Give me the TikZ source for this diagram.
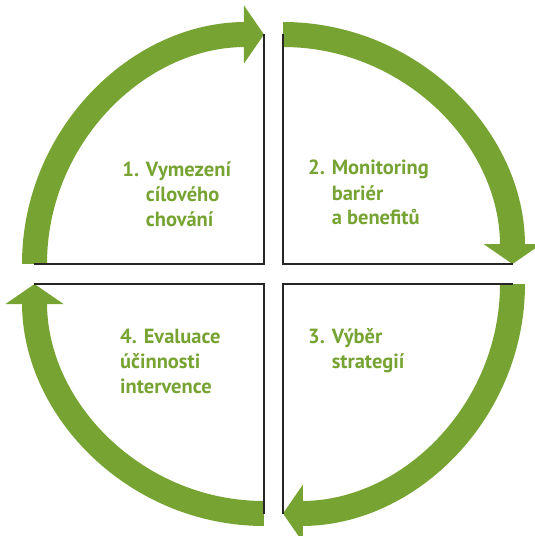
\documentclass[tikz,border=0pt]{standalone}
\usepackage{fontspec}
\setmainfont{PT Sans}
\usetikzlibrary{arrows.meta}
\definecolor{CycleGreen}{RGB}{118,163,50}

\begin{document}
\begin{tikzpicture}[x=1pt,y=1pt,
    ring/.style={line width=25pt,CycleGreen,-{Triangle[length=20pt,width=57pt]}},
    corner/.style={line width=2pt,black!85},
    steplabel/.style={CycleGreen,font=\bfseries\fontsize{20.5}{25}\selectfont,align=left,anchor=base west,inner sep=0pt}]
    \useasboundingbox (-273.5,-262) rectangle (261.5,274);
    \coordinate (c1) at (-9.5,10);
    \coordinate (c2) at (9.5,10);
    \coordinate (c3) at (9.5,-10);
    \coordinate (c4) at (-9.5,-10);

    \draw[ring] (c1) ++(-229.5,0) arc[start angle=180,end angle=90,radius=229.5];
    \draw[ring] (c2) ++(0,229.5) arc[start angle=90,end angle=0,radius=229.5];
    \draw[ring] (c3) ++(229.5,0) arc[start angle=0,end angle=-90,radius=229.5];
    \draw[ring] (c4) ++(0,-229.5) arc[start angle=-90,end angle=-180,radius=229.5];

    \draw[corner] (c1) ++(0,229.5) -- (c1) -- ++(-229.5,0);
    \draw[corner] (c2) ++(0,229.5) -- (c2) -- ++(229.5,0);
    \draw[corner] (c3) ++(229.5,0) -- (c3) -- ++(0,-229.5);
    \draw[corner] (c4) ++(0,-229.5) -- (c4) -- ++(-229.5,0);

    % anchored at the baseline of the last line
    \node[steplabel] (s1) at (-151.3,48) {1. Vymezení\\\hphantom{1. }cílového\\\hphantom{1. }chování};
    \node[steplabel] (s2) at (34.5,49) {2. Monitoring\\\hphantom{2. }bariér\\\hphantom{2. }a benefitů};
    \node[steplabel] (s3) at (34.5,-94) {3. Výběr\\\hphantom{3. }strategií};
    \node[steplabel] (s4) at (-153.5,-119) {4. Evaluace\\účinnosti\\intervence};
\end{tikzpicture}
\end{document}
